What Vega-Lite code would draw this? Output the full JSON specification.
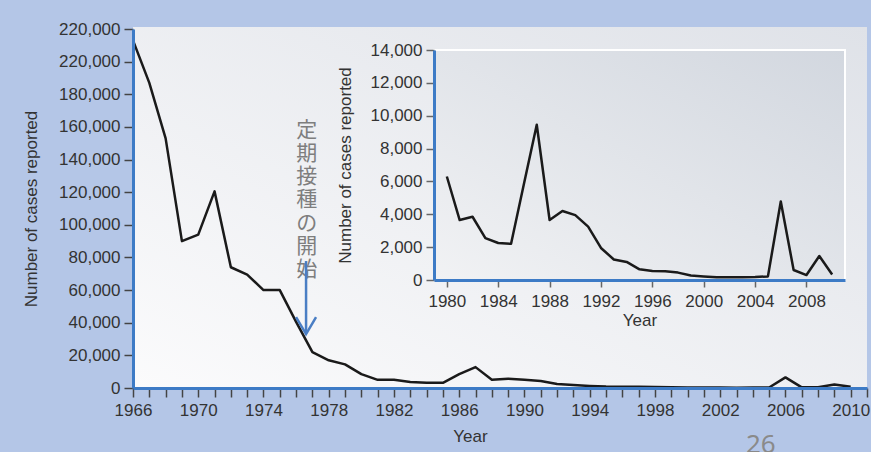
{
  "$schema": "https://vega.github.io/schema/vega-lite/v6.json",
  "width": 734,
  "height": 359,
  "autosize": {"type": "none"},
  "padding": {"left": 133, "top": 29, "right": 4, "bottom": 64},
  "background": "#b4c6e7",
  "config": {
    "view": {"stroke": null},
    "font": "Liberation Sans"
  },
  "title": {"text": "26", "orient": "bottom", "anchor": "start", "frame": "group", "dx": 613, "offset": -12, "fontSize": 26, "font": "Noto Sans", "fontWeight": "normal", "color": "#8a8a8a"},
  "datasets": {
    "main": [
      {"year": 1966, "cases": 213000}, {"year": 1967, "cases": 187000}, {"year": 1968, "cases": 153000},
      {"year": 1969, "cases": 90000}, {"year": 1970, "cases": 94000}, {"year": 1971, "cases": 120500},
      {"year": 1972, "cases": 74000}, {"year": 1973, "cases": 69500}, {"year": 1974, "cases": 60000},
      {"year": 1975, "cases": 60000}, {"year": 1976, "cases": 40500}, {"year": 1977, "cases": 22000},
      {"year": 1978, "cases": 17000}, {"year": 1979, "cases": 14500}, {"year": 1980, "cases": 8500},
      {"year": 1981, "cases": 5000}, {"year": 1982, "cases": 5000}, {"year": 1983, "cases": 3700},
      {"year": 1984, "cases": 3200}, {"year": 1985, "cases": 3200}, {"year": 1986, "cases": 8500},
      {"year": 1987, "cases": 12800}, {"year": 1988, "cases": 5000}, {"year": 1989, "cases": 5700},
      {"year": 1990, "cases": 5000}, {"year": 1991, "cases": 4300}, {"year": 1992, "cases": 2500},
      {"year": 1993, "cases": 1800}, {"year": 1994, "cases": 1300}, {"year": 1995, "cases": 900},
      {"year": 1996, "cases": 750}, {"year": 1997, "cases": 700}, {"year": 1998, "cases": 650},
      {"year": 1999, "cases": 400}, {"year": 2000, "cases": 350}, {"year": 2001, "cases": 270},
      {"year": 2002, "cases": 270}, {"year": 2003, "cases": 230}, {"year": 2004, "cases": 260},
      {"year": 2005, "cases": 300}, {"year": 2006, "cases": 6500}, {"year": 2007, "cases": 400},
      {"year": 2008, "cases": 400}, {"year": 2009, "cases": 2100}, {"year": 2010, "cases": 700}
    ],
    "inset": [
      {"year": 1980, "cases": 6300}, {"year": 1981, "cases": 3650}, {"year": 1982, "cases": 3850},
      {"year": 1983, "cases": 2550}, {"year": 1984, "cases": 2250}, {"year": 1985, "cases": 2200},
      {"year": 1986, "cases": 5850}, {"year": 1987, "cases": 9450}, {"year": 1988, "cases": 3650},
      {"year": 1989, "cases": 4200}, {"year": 1990, "cases": 3950}, {"year": 1991, "cases": 3250},
      {"year": 1992, "cases": 1950}, {"year": 1993, "cases": 1250}, {"year": 1994, "cases": 1100},
      {"year": 1995, "cases": 650}, {"year": 1996, "cases": 550}, {"year": 1997, "cases": 530},
      {"year": 1998, "cases": 450}, {"year": 1999, "cases": 270}, {"year": 2000, "cases": 220},
      {"year": 2001, "cases": 170}, {"year": 2002, "cases": 160}, {"year": 2003, "cases": 160},
      {"year": 2004, "cases": 180}, {"year": 2005, "cases": 220}, {"year": 2006, "cases": 4780},
      {"year": 2007, "cases": 610}, {"year": 2008, "cases": 300}, {"year": 2009, "cases": 1460},
      {"year": 2010, "cases": 340}
    ]
  },
  "layer": [
    {
      "data": {"values": [{}]},
      "mark": {"type": "rect", "fill": {"gradient": "linear", "x1": 1, "y1": 0, "x2": 0, "y2": 1, "stops": [{"offset": 0, "color": "#dfe2e8"}, {"offset": 1, "color": "#fbfbfc"}]}},
      "encoding": {
        "x": {"datum": 1966, "type": "quantitative", "axis": null, "scale": {"domain": [1966, 2011], "nice": false, "zero": false}},
        "x2": {"datum": 2011},
        "y": {"datum": 0, "type": "quantitative", "axis": null, "scale": {"domain": [0, 220000], "nice": false}},
        "y2": {"datum": 221200}
      }
    },
    {
      "data": {"name": "main"},
      "mark": {"type": "line", "color": "#1a1a1a", "strokeWidth": 2.5, "strokeJoin": "round"},
      "encoding": {
        "x": {
          "field": "year", "type": "quantitative",
          "scale": {"domain": [1966, 2011], "nice": false, "zero": false},
          "axis": {
            "title": "Year", "orient": "bottom", "zindex": 1, "grid": false,
            "values": [1966, 1967, 1968, 1969, 1970, 1971, 1972, 1973, 1974, 1975, 1976, 1977, 1978, 1979, 1980, 1981, 1982, 1983, 1984, 1985, 1986, 1987, 1988, 1989, 1990, 1991, 1992, 1993, 1994, 1995, 1996, 1997, 1998, 1999, 2000, 2001, 2002, 2003, 2004, 2005, 2006, 2007, 2008, 2009, 2010, 2011],
            "labelExpr": "(datum.value - 1966) % 4 === 0 ? '' + datum.value : ''",
            "labelOverlap": false, "labelFlush": false,
            "domainColor": "#3d7bc6", "domainWidth": 3,
            "tickColor": "#444", "tickWidth": 1.5, "tickSize": 9,
            "labelFontSize": 17, "labelColor": "#333", "labelPadding": 5,
            "titleFontSize": 17, "titleFontWeight": "normal", "titleColor": "#333", "titlePadding": 10, "titleX": 337
          }
        },
        "y": {
          "field": "cases", "type": "quantitative",
          "scale": {"domain": [0, 220000], "nice": false},
          "axis": {
            "title": "Number of cases reported", "orient": "left", "zindex": 1, "grid": false,
            "values": [0, 20000, 40000, 60000, 80000, 100000, 120000, 140000, 160000, 180000, 200000, 220000],
            "labelExpr": "datum.value === 200000 ? '220,000' : datum.label",
            "domainColor": "#3d7bc6", "domainWidth": 3,
            "tickColor": "#444", "tickWidth": 1.5, "tickSize": 9,
            "labelFontSize": 17, "labelColor": "#333", "labelPadding": 4,
            "titleFontSize": 17, "titleFontWeight": "normal", "titleColor": "#333", "titlePadding": 18
          }
        }
      }
    },
    {
      "data": {"values": [{}]},
      "mark": {"type": "text", "font": "Noto Sans CJK JP", "fontSize": 21, "lineHeight": 23.3, "baseline": "top", "align": "center", "color": "#7e7e7e"},
      "encoding": {
        "x": {"datum": 1976.65, "type": "quantitative", "axis": null, "scale": {"domain": [1966, 2011], "nice": false, "zero": false}},
        "y": {"datum": 164500, "type": "quantitative", "axis": null, "scale": {"domain": [0, 220000], "nice": false}},
        "text": {"value": ["定", "期", "接", "種", "の", "開", "始"]}
      }
    },
    {
      "data": {"values": [{}]},
      "mark": {"type": "rule", "color": "#4a7ec4", "strokeWidth": 2.5},
      "encoding": {
        "x": {"datum": 1976.61, "type": "quantitative", "axis": null, "scale": {"domain": [1966, 2011], "nice": false, "zero": false}},
        "y": {"datum": 77800, "type": "quantitative", "axis": null, "scale": {"domain": [0, 220000], "nice": false}},
        "y2": {"datum": 33500}
      }
    },
    {
      "data": {"values": [{}]},
      "mark": {"type": "point", "shape": "M-1,-1.7L0,0L1,-1.7", "filled": false, "size": 400, "stroke": "#4a7ec4", "strokeWidth": 2.5, "opacity": 1},
      "encoding": {
        "x": {"datum": 1976.61, "type": "quantitative", "axis": null, "scale": {"domain": [1966, 2011], "nice": false, "zero": false}},
        "y": {"datum": 33000, "type": "quantitative", "axis": null, "scale": {"domain": [0, 220000], "nice": false}}
      }
    },
    {
      "data": {"values": [{}]},
      "mark": {"type": "rect", "stroke": "#ffffff", "strokeWidth": 2, "fill": {"gradient": "linear", "x1": 1, "y1": 0, "x2": 0, "y2": 1, "stops": [{"offset": 0, "color": "#d2d7df"}, {"offset": 1, "color": "#f1f2f4"}]}},
      "encoding": {
        "x": {"datum": 1979, "type": "quantitative", "axis": null, "scale": {"domain": [1979, 2011], "range": [301, 712], "nice": false, "zero": false}},
        "x2": {"datum": 2011},
        "y": {"datum": 0, "type": "quantitative", "axis": null, "scale": {"domain": [0, 14000], "range": [251, 21], "nice": false}},
        "y2": {"datum": 14000}
      }
    },
    {
      "data": {"name": "inset"},
      "mark": {"type": "line", "color": "#1a1a1a", "strokeWidth": 2.5, "strokeJoin": "round"},
      "encoding": {
        "x": {
          "field": "year", "type": "quantitative",
          "scale": {"domain": [1979, 2011], "range": [301, 712], "nice": false, "zero": false},
          "axis": {
            "title": "Year", "orient": "bottom", "offset": -108, "zindex": 1, "grid": false,
            "values": [1980, 1984, 1988, 1992, 1996, 2000, 2004, 2008],
            "format": "d", "labelOverlap": false, "labelFlush": false,
            "domainColor": "#3d7bc6", "domainWidth": 3,
            "tickColor": "#666", "tickWidth": 1.5, "tickSize": 7,
            "labelFontSize": 17, "labelColor": "#333", "labelPadding": 6,
            "titleFontSize": 17, "titleFontWeight": "normal", "titleColor": "#333", "titlePadding": 3
          }
        },
        "y": {
          "field": "cases", "type": "quantitative",
          "scale": {"domain": [0, 14000], "range": [251, 21], "nice": false},
          "axis": {
            "title": "Number of cases reported", "orient": "left", "offset": -301, "zindex": 1, "grid": false,
            "values": [0, 2000, 4000, 6000, 8000, 10000, 12000, 14000],
            "domainColor": "#3d7bc6", "domainWidth": 3,
            "tickColor": "#666", "tickWidth": 1.5, "tickSize": 8,
            "labelFontSize": 17, "labelColor": "#333", "labelPadding": 4,
            "titleFontSize": 17, "titleFontWeight": "normal", "titleColor": "#333", "titlePadding": 16
          }
        }
      }
    }
  ],
  "resolve": {"scale": {"x": "independent", "y": "independent"}, "axis": {"x": "independent", "y": "independent"}}
}
